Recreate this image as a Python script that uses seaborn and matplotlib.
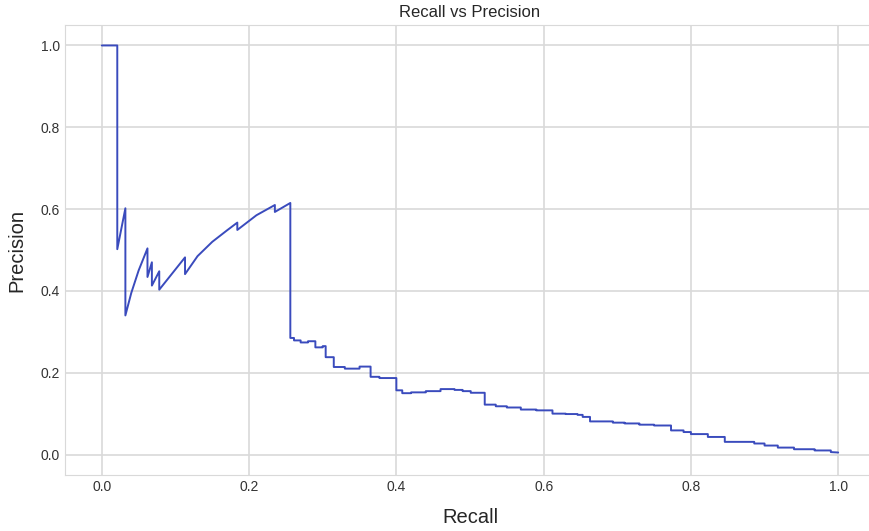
import numpy as np
import pandas as pd
import seaborn as sns
import matplotlib.pyplot as plt

# Precision-recall curve points
recall = [0.0, 0.021, 0.021, 0.032, 0.032, 0.04, 0.05, 0.062, 0.062, 0.068, 0.068,
          0.078, 0.078, 0.113, 0.113, 0.13, 0.15, 0.17, 0.184, 0.184, 0.21, 0.235,
          0.235, 0.256, 0.256, 0.261, 0.261, 0.27, 0.27, 0.28, 0.28, 0.29, 0.29,
          0.30, 0.30, 0.304, 0.304, 0.315, 0.315, 0.33, 0.33, 0.35, 0.35, 0.365,
          0.365, 0.377, 0.377, 0.40, 0.40, 0.408, 0.408, 0.42, 0.42, 0.44, 0.44,
          0.46, 0.46, 0.479, 0.479, 0.49, 0.49, 0.501, 0.501, 0.52, 0.52, 0.535,
          0.535, 0.55, 0.55, 0.569, 0.569, 0.59, 0.59, 0.612, 0.612, 0.63, 0.63,
          0.646, 0.646, 0.653, 0.653, 0.663, 0.663, 0.694, 0.694, 0.71, 0.71, 0.73,
          0.73, 0.75, 0.75, 0.773, 0.773, 0.79, 0.79, 0.80, 0.80, 0.823, 0.823,
          0.846, 0.846, 0.886, 0.886, 0.90, 0.90, 0.918, 0.918, 0.94, 0.94, 0.968,
          0.968, 0.99, 0.99, 1.0]
precision = [1.0, 1.0, 0.502, 0.602, 0.34, 0.395, 0.45, 0.504, 0.434, 0.47, 0.413,
             0.448, 0.403, 0.482, 0.441, 0.485, 0.52, 0.548, 0.567, 0.549, 0.585, 0.610,
             0.593, 0.615, 0.285, 0.285, 0.279, 0.279, 0.274, 0.274, 0.277, 0.277, 0.262,
             0.262, 0.265, 0.265, 0.238, 0.238, 0.214, 0.214, 0.21, 0.21, 0.215, 0.215,
             0.19, 0.19, 0.187, 0.187, 0.157, 0.157, 0.150, 0.150, 0.152, 0.152, 0.155,
             0.155, 0.160, 0.160, 0.158, 0.158, 0.155, 0.155, 0.151, 0.151, 0.122, 0.122,
             0.118, 0.118, 0.115, 0.115, 0.11, 0.11, 0.108, 0.108, 0.10, 0.10, 0.099,
             0.099, 0.097, 0.097, 0.092, 0.092, 0.081, 0.081, 0.078, 0.078, 0.076, 0.076,
             0.073, 0.073, 0.071, 0.071, 0.059, 0.059, 0.055, 0.055, 0.050, 0.050, 0.043,
             0.043, 0.031, 0.031, 0.027, 0.027, 0.022, 0.022, 0.017, 0.017, 0.013, 0.013,
             0.010, 0.010, 0.006, 0.005]

df = pd.DataFrame({"Recall": recall, "Precision": precision})

sns.set_style("whitegrid")
plt.rcParams["font.family"] = ["Liberation Sans", "DejaVu Sans"]

fig = plt.figure(figsize=(8.7, 5.31), dpi=100)
ax = fig.add_axes([65 / 870, 56 / 531, 810 / 870, 450 / 531])
sns.lineplot(data=df, x="Recall", y="Precision", sort=False, estimator=None,
             color="#3a4bbd", linewidth=1.4, ax=ax)

ax.set_xlim(-0.05, 1.05)
ax.set_ylim(-0.05, 1.05)
ax.set_xticks(np.arange(0, 1.01, 0.2))
ax.set_yticks(np.arange(0, 1.01, 0.2))
ax.set_title("Recall vs Precision", fontsize=12, color="#262626")
ax.set_xlabel("Recall", fontsize=14.5, color="#262626", labelpad=10)
ax.set_ylabel("Precision", fontsize=14.5, color="#262626", labelpad=10)
ax.tick_params(labelsize=10, colors="#333333", length=0)
ax.grid(color="#d9d9d9", linewidth=1.2)
for s in ax.spines.values():
    s.set_color("#d9d9d9")

plt.savefig("out.png", dpi=100)
